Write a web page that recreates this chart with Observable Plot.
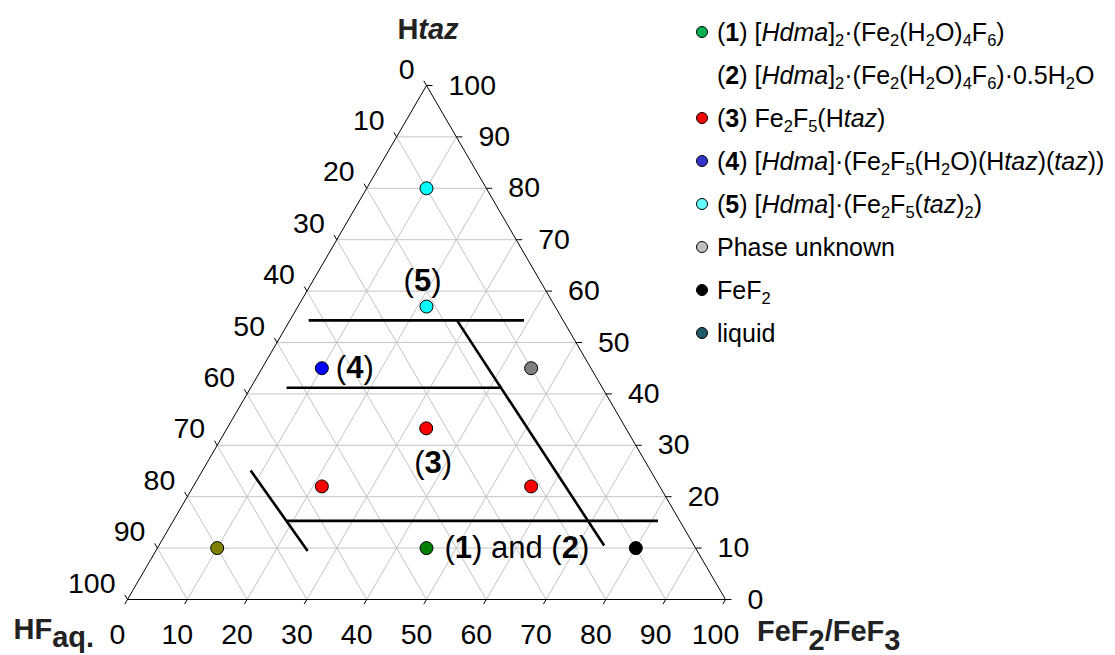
<!DOCTYPE html>
<html><head><meta charset="utf-8">
<script src="https://cdn.jsdelivr.net/npm/d3@7"></script>
<script src="https://cdn.jsdelivr.net/npm/@observablehq/plot@0.6"></script>
<style>
body{margin:0;background:#fff;}
#wrap{position:relative;width:1115px;height:655px;font-family:"Liberation Sans",Arial,sans-serif;}
#wrap svg{position:absolute;left:0;top:0;}
.row{position:absolute;white-space:nowrap;font-size:25px;line-height:24px;color:#000;}
.mk{position:absolute;width:12px;height:12px;border-radius:50%;border:1px solid #000;box-sizing:border-box;}
.row sub{font-size:0.66em;vertical-align:-0.28em;line-height:0;}
</style></head><body><div id="wrap"></div>
<script>
// ---------- data ----------
const ticks = [0,10,20,30,40,50,60,70,80,90,100];
// experiment compositions (mol %): Htaz and FeF2/FeF3 (HF is the remainder)
const pointPhase = ["5","5","4","unknown","3","3","3","1+2","liquid","FeF2"];
const pointHtaz  = [80, 57, 45, 45, 33.3, 22, 22, 10, 10, 10];
const pointFeF   = [10, 21.5, 10, 45, 33.3, 21.5, 56.5, 45, 10, 80];
// phase-field boundaries (start / end compositions)
const boundHtazA = [54.3, 41.2, 15.3, 54.3, 25.1];
const boundFeFA  = [3.15, 6.0, 19.05, 27.95, 8.05];
const boundHtazB = [54.3, 41.2, 15.3, 10.5, 9.45];
const boundFeFB  = [39.15, 41.7, 81.05, 74.45, 25.4];
// annotations: text and the experiment point they refer to
const annotText  = ["(5)", "(4)", "(3)", "(1) and (2)"];
const annotPoint = [1, 2, 4, 7];
// axis titles
const titleText = ["Htaz", "HFaq.", "FeF2/FeF3"];
// legend
const legendLabels = [
  "(<b>1</b>) [<i>Hdma</i>]<sub>2</sub>·(Fe<sub>2</sub>(H<sub>2</sub>O)<sub>4</sub>F<sub>6</sub>)",
  "(<b>2</b>) [<i>Hdma</i>]<sub>2</sub>·(Fe<sub>2</sub>(H<sub>2</sub>O)<sub>4</sub>F<sub>6</sub>)·0.5H<sub>2</sub>O",
  "(<b>3</b>) Fe<sub>2</sub>F<sub>5</sub>(H<i>taz</i>)",
  "(<b>4</b>) [<i>Hdma</i>]·(Fe<sub>2</sub>F<sub>5</sub>(H<sub>2</sub>O)(H<i>taz</i>)(<i>taz</i>))",
  "(<b>5</b>) [<i>Hdma</i>]·(Fe<sub>2</sub>F<sub>5</sub>(<i>taz</i>)<sub>2</sub>)",
  "Phase unknown",
  "FeF<sub>2</sub>",
  "liquid"
];
const legendKey = ["1","2","3","4","5","unknown","FeF2","liquid"];

// ---------- styles ----------
const pointColors = {"5":"#00FFFF","4":"#0000FF","unknown":"#808080","3":"#FF0000","1+2":"#008000","liquid":"#808000","FeF2":"#000000"};
const legendColors = {"1":"#00B050","2":null,"3":"#FF0000","4":"#3333CC","5":"#66FFFF","unknown":"#C0C0C0","FeF2":"#000000","liquid":"#1F5A68"};
const FONT = "Liberation Sans, Arial, sans-serif";

// ---------- ternary -> cartesian ----------
const X = (fef, htaz) => fef + htaz / 2;
const pts = pointPhase.map((p, i) => ({phase: p, x: X(pointFeF[i], pointHtaz[i]), y: pointHtaz[i]}));
const bounds = boundHtazA.map((t, i) => ({x1: X(boundFeFA[i], t), y1: t, x2: X(boundFeFB[i], boundHtazB[i]), y2: boundHtazB[i]}));
const inner = ticks.slice(1, -1);
const grid = [];
for (const k of inner) {
  grid.push({x1: X(100 - k, k), y1: k, x2: X(0, k), y2: k});               // constant Htaz
  grid.push({x1: X(k, 0), y1: 0, x2: X(k, 100 - k), y2: 100 - k});          // constant FeF
  grid.push({x1: X(0, 100 - k), y1: 100 - k, x2: X(100 - k, 0), y2: 0});    // constant HF
}
const corners = [[X(0,0),0],[X(100,0),0],[X(0,100),100],[X(0,0),0]];
const vertices = [[X(0,100),100],[X(0,0),0],[X(100,0),0]];

const TICK_FS = 28.5;
const marks = [
  Plot.link(grid, {x1:"x1", y1:"y1", x2:"x2", y2:"y2", stroke:"#c4c4c4", strokeWidth:1}),
  Plot.line(corners, {x: d => d[0], y: d => d[1], stroke:"#000", strokeWidth:1}),
  // ticks
  Plot.link(ticks, {x1: d => X(d, 0), y1: 0, x2: d => X(d, 0) - 0.45, y2: -0.9, stroke:"#000"}),
  Plot.link(ticks, {x1: d => X(100 - d, d), y1: d => d, x2: d => X(100 - d, d) + 1.0, y2: d => d, stroke:"#000"}),
  Plot.link(ticks, {x1: d => X(0, 100 - d), y1: d => 100 - d, x2: d => X(0, 100 - d) - 0.45, y2: d => 100 - d + 0.9, stroke:"#000"}),
  // tick labels
  Plot.text(ticks, {x: d => X(d, 0), y: 0, text: d => String(d), dx: -10, dy: 35, fontSize: TICK_FS, fontFamily: FONT, fill:"#000"}),
  Plot.text(ticks, {x: d => X(100 - d, d), y: d => d, text: d => String(d), textAnchor: "start", dx: 22, dy: 0, fontSize: TICK_FS, fontFamily: FONT, fill:"#000"}),
  Plot.text(ticks, {x: d => X(0, 100 - d), y: d => 100 - d, text: d => String(d), textAnchor: "end", dx: -12, dy: -16, fontSize: TICK_FS, fontFamily: FONT, fill:"#000"}),
  // phase boundaries
  Plot.link(bounds, {x1:"x1", y1:"y1", x2:"x2", y2:"y2", stroke:"#000", strokeWidth:2.6}),
  // points
  Plot.dot(pts, {x:"x", y:"y", r:6.5, fill: d => pointColors[d.phase], stroke:"#000", strokeWidth:1}),
];
// annotations
const annotOpts = [
  {dx: -4, dy: -25, textAnchor: "middle"},
  {dx: 14, dy: 0, textAnchor: "start"},
  {dx: 7, dy: 35, textAnchor: "middle"},
  {dx: 18, dy: 0, textAnchor: "start"}
];
annotText.forEach((t, i) => {
  marks.push(Plot.text([pts[annotPoint[i]]], {x:"x", y:"y", text: () => t, fontSize: 31, fontFamily: FONT, fill:"#000", ...annotOpts[i]}));
});
// axis titles
const titleOpts = [
  {dx: 1.5, dy: -56, textAnchor: "middle"},
  {dx: -114, dy: 30, textAnchor: "start"},
  {dx: 31.5, dy: 32.5, textAnchor: "start"}
];
titleText.forEach((t, i) => {
  marks.push(Plot.text([vertices[i]], {x: d => d[0], y: d => d[1], text: () => t, fontSize: 29, fontWeight: "bold", fontFamily: FONT, fill:"#222", ...titleOpts[i]}));
});

const plot = Plot.plot({
  width: 1115, height: 655,
  marginLeft: 127, marginRight: 390, marginTop: 85, marginBottom: 56,
  x: {domain: [0, 100], axis: null},
  y: {domain: [0, 100], axis: null},
  style: {fontFamily: FONT, background: "transparent", overflow: "visible"},
  marks
});

// rich text (italics, bold digits, subscripts)
const rich = new Map([
  ["Htaz", 'H<tspan font-style="italic">taz</tspan>'],
  ["HFaq.", 'HF<tspan dy="8">aq.</tspan>'],
  ["FeF2/FeF3", 'FeF<tspan dy="8.5">2</tspan><tspan dy="-8.5">/FeF</tspan><tspan dy="8.5">3</tspan>']
]);
d3.select(plot).selectAll("text").each(function() {
  const t = this.textContent;
  if (rich.has(t)) this.innerHTML = rich.get(t);
  else if (/\(\d\)/.test(t)) this.innerHTML = t.replace(/\((\d)\)/g, '(<tspan font-weight="bold">$1</tspan>)');
});

const wrap = document.getElementById("wrap");
wrap.appendChild(plot);

// legend (HTML, to the right of the diagram)
legendLabels.forEach((lab, i) => {
  const cy = 31.5 + i * 43.1;
  const c = legendColors[legendKey[i]];
  if (c) {
    const m = document.createElement("div");
    m.className = "mk";
    m.style.left = (701.7 - 6) + "px";
    m.style.top = (cy - 6) + "px";
    m.style.background = c;
    wrap.appendChild(m);
  }
  const r = document.createElement("div");
  r.className = "row";
  r.style.left = "717px";
  r.style.top = (cy - 12) + "px";
  r.innerHTML = lab;
  wrap.appendChild(r);
});
</script></body></html>
